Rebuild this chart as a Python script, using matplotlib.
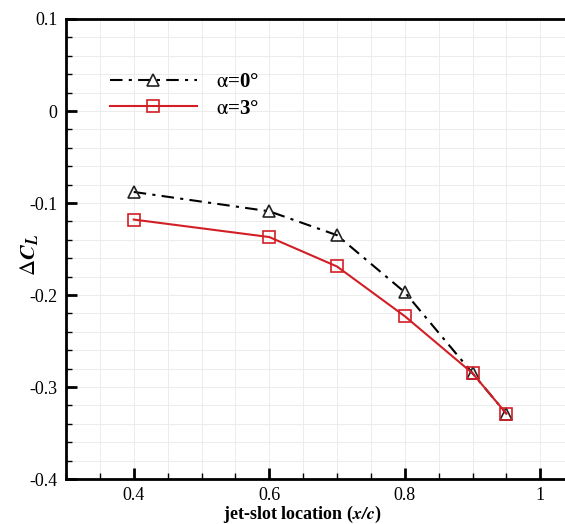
import matplotlib
matplotlib.use('Agg')
import matplotlib.pyplot as plt
from matplotlib.ticker import MultipleLocator

# jet-slot location and lift increment
x_loc = [0.4, 0.6, 0.7, 0.8, 0.9, 0.95]
dcl_a0 = [-0.088, -0.109, -0.135, -0.197, -0.285, -0.329]
dcl_a3 = [-0.118, -0.137, -0.169, -0.223, -0.285, -0.329]

plt.rcParams['font.family'] = ['Liberation Serif', 'DejaVu Serif']
plt.rcParams['mathtext.fontset'] = 'stix'

fig = plt.figure(figsize=(5.65, 5.24), dpi=100)
ax = fig.add_axes([66 / 565, 45 / 524, 1 - 66 / 565, 460 / 524])

ax.plot(x_loc, dcl_a0, color='black', linestyle=(0, (6, 3, 1.5, 3)), linewidth=1.5,
        marker='^', markersize=9, markerfacecolor='none', markeredgecolor='#222222',
        markeredgewidth=1.2, label=r'$\mathrm{\alpha}$=0°')
ax.plot(x_loc, dcl_a3, color='#d21f26', linewidth=1.5,
        marker='s', markersize=9, markerfacecolor='none', markeredgecolor='#d21f26',
        markeredgewidth=1.2, label=r'$\mathrm{\alpha}$=3°')

ax.set_xlim(0.3, 0.3 + 499 / 677.5)
ax.set_ylim(-0.4, 0.1)
ax.xaxis.set_major_locator(MultipleLocator(0.2))
ax.xaxis.set_minor_locator(MultipleLocator(0.05))
ax.yaxis.set_major_locator(MultipleLocator(0.1))
ax.yaxis.set_minor_locator(MultipleLocator(0.02))
ax.xaxis.set_major_formatter(plt.FuncFormatter(lambda v, p: f'{v:g}'))
ax.yaxis.set_major_formatter(plt.FuncFormatter(lambda v, p: f'{v:g}'))

ax.grid(which='both', color='#ececec', linewidth=0.7)
ax.set_axisbelow(True)
ax.tick_params(which='major', direction='in', length=8, width=2, labelsize=13, pad=6)
ax.tick_params(which='minor', direction='in', length=4, width=1)
ax.tick_params(top=False, right=False, which='both')
for s in ['left', 'bottom', 'top']:
    ax.spines[s].set_linewidth(2)
ax.spines['right'].set_visible(False)

ax.set_xlabel(r'jet-slot location ($\mathbfit{x/c}$)', fontsize=13, fontweight='bold')
ax.xaxis.set_label_coords(236 / 499, -25 / 460)
ax.set_ylabel(r'$\Delta\mathbfit{C}_{\mathbfit{L}}$', fontsize=16)
ax.yaxis.set_label_coords(-26 / 499, 224 / 460)

leg = ax.legend(loc='upper left', bbox_to_anchor=(0.05, 0.925), frameon=False,
                handlelength=4.2, handletextpad=0.9, labelspacing=0.3, numpoints=1,
                prop={'size': 15, 'weight': 'bold'})

fig.savefig('out.png', dpi=100)
